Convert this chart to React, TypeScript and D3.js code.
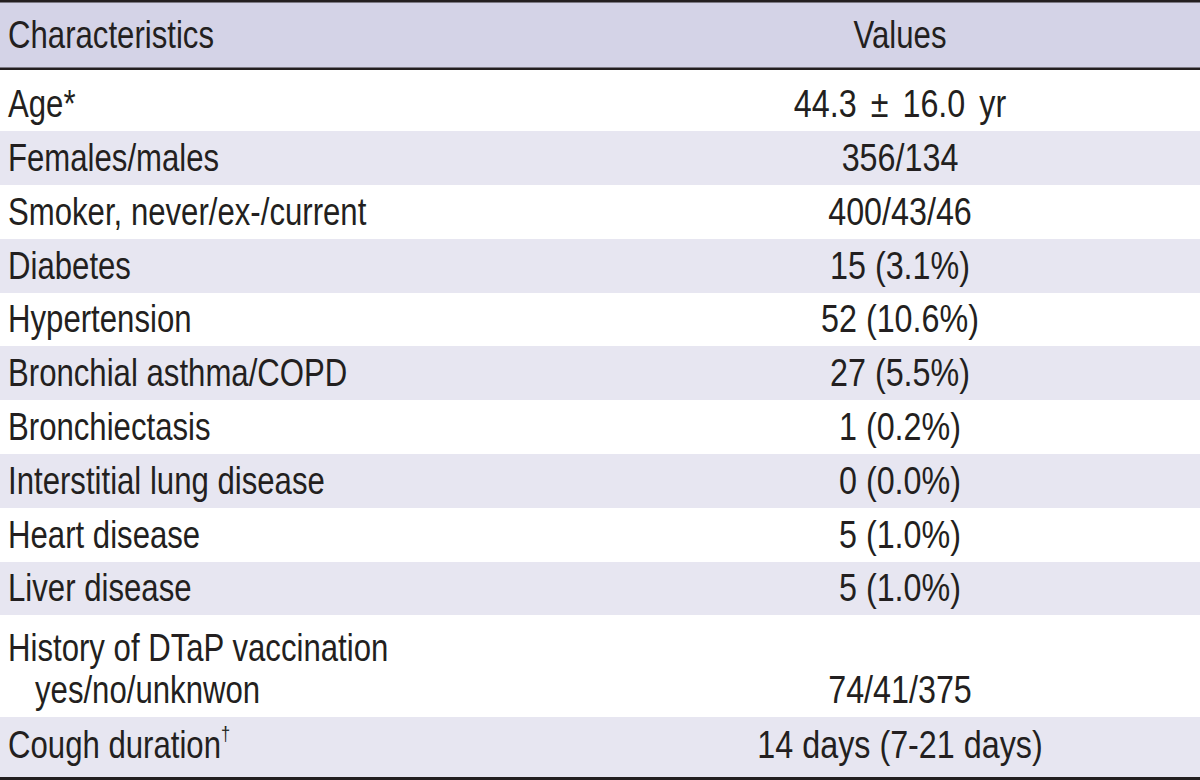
import React from "react";
import * as d3 from "d3";

const headers = ["Characteristics", "Values"];
const labels = [
  "Age*",
  "Females/males",
  "Smoker, never/ex-/current",
  "Diabetes",
  "Hypertension",
  "Bronchial asthma/COPD",
  "Bronchiectasis",
  "Interstitial lung disease",
  "Heart disease",
  "Liver disease",
  "History of DTaP vaccination|yes/no/unknwon",
  "Cough duration",
];
const labelMarks = ["", "", "", "", "", "", "", "", "", "", "", "†"];
const values = [
  "44.3 ± 16.0 yr",
  "356/134",
  "400/43/46",
  "15 (3.1%)",
  "52 (10.6%)",
  "27 (5.5%)",
  "1 (0.2%)",
  "0 (0.0%)",
  "5 (1.0%)",
  "5 (1.0%)",
  "74/41/375",
  "14 days (7-21 days)",
];

// layout
const W = 1200;
const H = 780;
const rowEdges = [70, 131, 185, 239, 293, 346, 400, 454, 508, 562, 615, 717, 777];
const FONT = "'Liberation Sans Narrow', 'Liberation Sans', Arial, sans-serif";
const FS = 38;
const TEXT = "#231f20";
const HEAD_BG = "#d4d3e7";
const ALT_BG = "#e7e6f1";
const SX_LABEL = 0.82;
const SX_VALUE = 0.85;

function T({ x, y, sx, anchor, spacing, children }: any) {
  return (
    <text
      transform={`translate(${x},${y}) scale(${sx},1)`}
      fontSize={FS}
      fill={TEXT}
      textAnchor={anchor || "start"}
      wordSpacing={spacing || 0}
    >
      {children}
    </text>
  );
}

export default function App() {
  const x = d3.scaleLinear().domain([0, 1]).range([0, W]);
  const valueX = 900;
  const leftX = 8;

  return (
    <svg
      width={W}
      height={H}
      style={{ position: "absolute", left: 0, top: 0, background: "#fff" }}
      fontFamily={FONT}
    >
      <rect x={0} y={0} width={W} height={H} fill="#fff" />
      <rect x={x(0)} y={0} width={x(1)} height={69} fill={HEAD_BG} />
      {labels.map((_, i) => {
        const y0 = rowEdges[i];
        const y1 = rowEdges[i + 1];
        return i % 2 === 1 ? (
          <rect key={"bg" + i} x={x(0)} y={y0} width={x(1)} height={y1 - y0} fill={ALT_BG} />
        ) : null;
      })}
      <line x1={0} x2={W} y1={1.2} y2={1.2} stroke={TEXT} strokeWidth={2.5} />
      <line x1={0} x2={W} y1={68.7} y2={68.7} stroke={TEXT} strokeWidth={2.5} />
      <line x1={0} x2={W} y1={778.5} y2={778.5} stroke={TEXT} strokeWidth={3} />

      <T x={leftX} y={48} sx={SX_LABEL}>{headers[0]}</T>
      <T x={valueX} y={48} sx={SX_LABEL} anchor="middle">{headers[1]}</T>

      {labels.map((lab, i) => {
        const y1 = rowEdges[i + 1];
        const parts = lab.split("|");
        if (parts.length > 1) {
          return (
            <g key={"l" + i}>
              <T x={leftX} y={661} sx={SX_LABEL}>{parts[0]}</T>
              <T x={35} y={703} sx={SX_LABEL}>{parts[1]}</T>
              <T x={valueX} y={703} sx={SX_VALUE} anchor="middle">{values[i]}</T>
            </g>
          );
        }
        const base = i === labels.length - 1 ? 758 : y1 - 14;
        return (
          <g key={"l" + i}>
            <T x={leftX} y={base} sx={SX_LABEL}>
              {lab}
              {labelMarks[i] ? (
                <tspan fontSize={20} dx={0} dy={-17}>
                  {labelMarks[i]}
                </tspan>
              ) : null}
            </T>
            <T
              x={valueX}
              y={base}
              sx={SX_VALUE}
              anchor="middle"
              spacing={values[i].includes("±") ? 6 : 0}
            >
              {values[i]}
            </T>
          </g>
        );
      })}
    </svg>
  );
}
